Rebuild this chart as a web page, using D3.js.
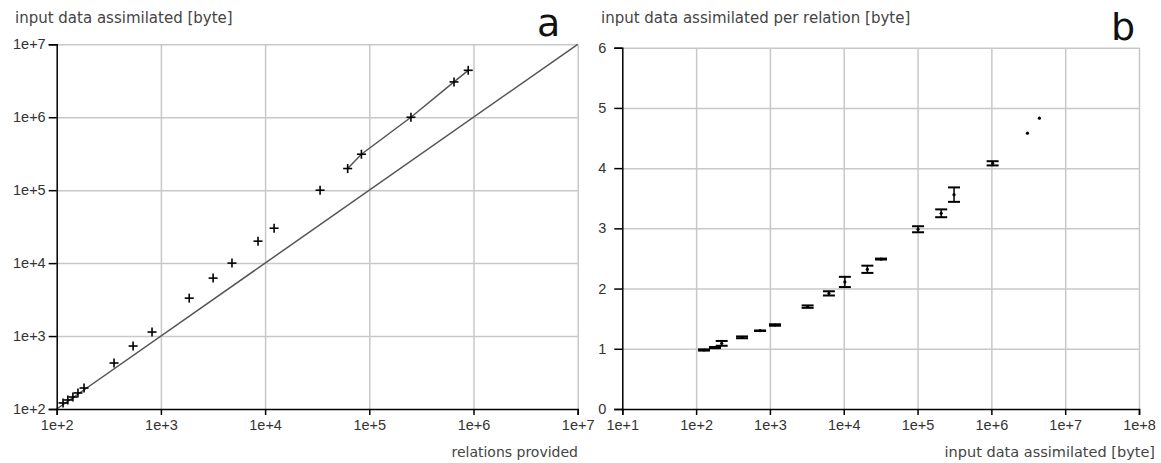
<!doctype html>
<html lang="en">
<head>
<meta charset="utf-8" />
<title>input data assimilated</title>
<script src="https://cdn.jsdelivr.net/npm/d3@7"></script>
<style>
	body { margin: 0; background: #fff; }
	svg { display: block; font-family: "DejaVu Sans", sans-serif; }
	.grid line { stroke: #c8c8c8; stroke-width: 1.5; }
	.grid path { display: none; }
	.axis path, .axis line { stroke: #000; stroke-width: 1.5; }
	.axis text { font-size: 14.5px; fill: #333; }
	.title { font-size: 15px; fill: #444; }
	.xtitle { font-size: 14.5px; fill: #444; }
	.panel { font-size: 38px; fill: #111; }
</style>
</head>
<body>
<svg id="chart" width="1161" height="463"></svg>
<script>
// panel a: relations provided vs input data assimilated
var aRel = [115, 128, 143, 160, 183, 355, 541, 822, 1870, 3170, 4810, 8550, 12200, 33700];
var aBytes = [121, 133, 146, 166, 194, 427, 730, 1135, 3310, 6230, 10000, 20000, 30100, 100000];
// these ones are joined by a line
var aRelLine = [62000, 84000, 251000, 650000, 890000];
var aBytesLine = [198000, 311000, 1000000, 3050000, 4400000];
var aTicks = [1e2, 1e3, 1e4, 1e5, 1e6, 1e7];

// panel b: bytes per relation, with error half-widths
var bBytes = [128, 180, 222, 419, 735, 1170, 3240, 6300, 10360, 20900, 32000, 101600, 209000, 312000, 1040000, 3080000, 4470000];
var bPerRel = [0.98, 1.02, 1.09, 1.19, 1.30, 1.395, 1.70, 1.92, 2.11, 2.32, 2.49, 2.985, 3.25, 3.56, 4.08, 4.58, 4.83];
var bErr = [0.01, 0.01, 0.04, 0.015, 0.004, 0.012, 0.02, 0.035, 0.085, 0.06, 0.008, 0.05, 0.065, 0.12, 0.035, 0, 0];
var bXTicks = [1e1, 1e2, 1e3, 1e4, 1e5, 1e6, 1e7, 1e8];
var bYTicks = [0, 1, 2, 3, 4, 5, 6];

var svg = d3.select("#chart");
var sciFmt = function (d) { return "1e+" + Math.round(Math.log10(d)); };

//--- panel a
var xa = d3.scaleLog().domain([1e2, 1e7]).range([56.7, 577.7]);
var ya = d3.scaleLog().domain([1e2, 1e7]).range([409, 44.3]);

svg.append("g").attr("class", "grid")
	.attr("transform", "translate(0,409)")
	.call(d3.axisBottom(xa).tickValues(aTicks.slice(1)).tickSize(-(409 - 44.3)).tickFormat(""));
svg.append("g").attr("class", "grid")
	.attr("transform", "translate(56.7,0)")
	.call(d3.axisLeft(ya).tickValues(aTicks.slice(1)).tickSize(-(577.7 - 56.7)).tickFormat(""));

// y = x reference
svg.append("line")
	.attr("x1", xa(1e2)).attr("y1", ya(1e2))
	.attr("x2", xa(1e7)).attr("y2", ya(1e7))
	.style("stroke", "#555").style("stroke-width", 1.5);

var lineA = d3.line()
	.x(function (d) { return xa(d[0]); })
	.y(function (d) { return ya(d[1]); });
svg.append("path")
	.datum(d3.zip(aRelLine, aBytesLine))
	.attr("d", lineA)
	.style("fill", "none").style("stroke", "#555").style("stroke-width", 1.5);

var allA = d3.zip(aRel.concat(aRelLine), aBytes.concat(aBytesLine));
var plus = svg.append("g").selectAll("g").data(allA).enter().append("g")
	.attr("transform", function (d) { return "translate(" + xa(d[0]) + "," + ya(d[1]) + ")"; });
plus.append("line").attr("x1", -4.5).attr("x2", 4.5)
	.style("stroke", "#000").style("stroke-width", 1.6);
plus.append("line").attr("y1", -4.5).attr("y2", 4.5)
	.style("stroke", "#000").style("stroke-width", 1.6);

svg.append("g").attr("class", "axis")
	.attr("transform", "translate(0,409)")
	.call(d3.axisBottom(xa).tickValues(aTicks).tickSize(6).tickPadding(5).tickFormat(sciFmt));
svg.append("g").attr("class", "axis")
	.attr("transform", "translate(56.7,0)")
	.call(d3.axisLeft(ya).tickValues(aTicks).tickSize(8).tickPadding(3).tickFormat(sciFmt));

svg.append("text").attr("class", "title").attr("x", 15).attr("y", 23)
	.text("input data assimilated [byte]");
svg.append("text").attr("class", "xtitle").attr("x", 578).attr("y", 457)
	.attr("text-anchor", "end").style("font-size", "14px").text("relations provided");
svg.append("text").attr("class", "panel").attr("x", 537).attr("y", 36).text("a");

//--- panel b
var xb = d3.scaleLog().domain([1e1, 1e8]).range([622.3, 1139]);
var yb = d3.scaleLinear().domain([0, 6]).range([409, 47.7]);

svg.append("g").attr("class", "grid")
	.attr("transform", "translate(0,409)")
	.call(d3.axisBottom(xb).tickValues(bXTicks.slice(1)).tickSize(-(409 - 47.7)).tickFormat(""));
svg.append("g").attr("class", "grid")
	.attr("transform", "translate(622.3,0)")
	.call(d3.axisLeft(yb).tickValues(bYTicks.slice(1)).tickSize(-(1139 - 622.3)).tickFormat(""));

var bars = svg.append("g").selectAll("g").data(d3.range(bBytes.length)).enter().append("g")
	.attr("transform", function (i) { return "translate(" + xb(bBytes[i]) + ",0)"; });
bars.filter(function (i) { return bErr[i] > 0; }).each(function (i) {
	var g = d3.select(this);
	var top = yb(bPerRel[i] + bErr[i]), bot = yb(bPerRel[i] - bErr[i]);
	g.append("line").attr("y1", top).attr("y2", bot)
		.style("stroke", "#000").style("stroke-width", 1.5);
	[top, bot].forEach(function (yy) {
		g.append("line").attr("x1", -6).attr("x2", 6).attr("y1", yy).attr("y2", yy)
			.style("stroke", "#000").style("stroke-width", 2);
	});
});
bars.append("circle").attr("cy", function (i) { return yb(bPerRel[i]); })
	.attr("r", 1.6).style("fill", "#000");

svg.append("g").attr("class", "axis")
	.attr("transform", "translate(0,409)")
	.call(d3.axisBottom(xb).tickValues(bXTicks).tickSize(6).tickPadding(5).tickFormat(sciFmt));
svg.append("g").attr("class", "axis")
	.attr("transform", "translate(622.3,0)")
	.call(d3.axisLeft(yb).tickValues(bYTicks).tickSize(8).tickPadding(8).tickFormat(d3.format("d")));

svg.append("text").attr("class", "title").attr("x", 601).attr("y", 23)
	.text("input data assimilated per relation [byte]");
svg.append("text").attr("class", "xtitle").attr("x", 1155).attr("y", 457)
	.attr("text-anchor", "end").text("input data assimilated [byte]");
svg.append("text").attr("class", "panel").attr("x", 1111).attr("y", 40).text("b");
</script>
</body>
</html>
